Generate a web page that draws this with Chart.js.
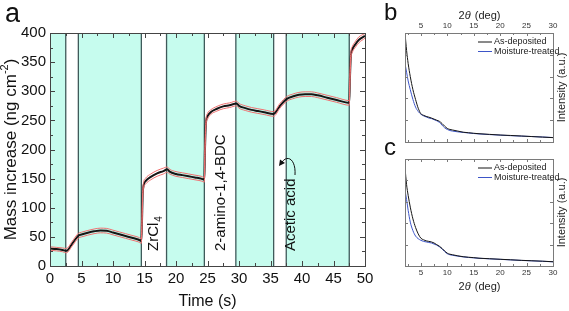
<!DOCTYPE html>
<html>
<head>
<meta charset="utf-8">
<script src="https://cdn.jsdelivr.net/npm/chart.js@4.4.0/dist/chart.umd.min.js"></script>
<style>
  body { margin: 0; background: #fff; }
  #wrap { position: relative; width: 569px; height: 311px; }
  canvas { position: absolute; left: 0; top: 0; }
</style>
</head>
<body>
<div id="wrap">
  <canvas id="chartA" width="569" height="311"></canvas>
  <canvas id="chartB" width="569" height="311"></canvas>
  <canvas id="chartC" width="569" height="311"></canvas>
</div>
<script>
// panel a: mass increase vs time
const timeS = [0, 1, 2, 2.6, 3.5, 4.5, 5, 6, 7, 8, 9, 10, 11, 12, 13, 14, 14.5, 14.6, 14.7, 14.85, 15.2, 16, 17, 18, 18.6,
  19, 20, 21, 22, 23, 24, 24.5, 24.6, 24.75, 25, 25.5, 26.5, 27.5, 28.5, 29.6, 30, 31, 32, 33, 34, 35.5, 36.5, 37.6,
  38.5, 39.5, 40.5, 41.5, 42.5, 44, 45.5, 47.5, 47.6, 47.75, 48, 48.5, 49, 50];
const massMean = [30, 29, 27.5, 26, 38, 52, 54, 57, 59.5, 61, 60.5, 57.5, 54.5, 51.5, 48.5, 45.5, 43, 75, 120, 138, 146, 153, 159, 163, 166,
  162, 158, 156, 154, 152, 150, 148, 200, 245, 257, 264, 270, 274, 276, 279, 275, 271, 268, 266, 264, 261, 275, 287,
  291, 294, 295, 295, 293, 289, 285, 280, 320, 360, 372, 381, 388, 395];
const massUpper = [33, 32, 31, 30, 42, 56, 58, 61, 63.5, 65, 64.5, 61.5, 58.5, 55.5, 52.5, 49.5, 47, 80, 126, 143, 151, 158, 164, 168, 170,
  166, 162, 160, 158, 156, 154, 152, 206, 250, 262, 268, 274, 278, 280, 283, 279, 275, 272, 270, 268, 265, 279, 291,
  295, 298, 299, 299, 297, 293, 289, 284, 326, 366, 377, 386, 393, 399];
const massLower = [27, 26, 24.5, 22.5, 34, 48, 50, 53, 55.5, 57, 56.5, 53.5, 50.5, 47.5, 44.5, 41.5, 39, 70, 114, 133, 141, 148, 154, 158, 161,
  158, 154, 152, 150, 148, 146, 144, 194, 240, 252, 260, 266, 270, 272, 275, 271, 267, 264, 262, 260, 257, 271, 283,
  287, 290, 291, 291, 289, 285, 281, 276, 314, 354, 367, 376, 383, 391];
const shadeStart = [0, 4.5, 18.5, 29.5, 37.5];
const shadeEnd = [2.5, 14.5, 24.5, 35.5, 47.5];
const timeTicks = [0, 5, 10, 15, 20, 25, 30, 35, 40, 45, 50];
const massTicks = [0, 50, 100, 150, 200, 250, 300, 350, 400];
const precursorLabels = [
  { text: 'ZrCl', sub: '4', t: 16.5 },
  { text: '2-amino-1,4-BDC', sub: '', t: 27.1 },
  { text: 'Acetic acid', sub: '', t: 38.2 }
];

// panels b and c: XRD
const twoTheta = [2, 2.3, 2.6, 3, 3.5, 4, 4.5, 5, 5.5, 6, 6.5, 7, 7.5, 8, 8.5, 9, 9.5, 10, 10.5, 11, 12, 13, 14, 15,
  16, 18, 20, 22, 24, 26, 28, 30];
const bDeposited = [100, 84, 72, 60, 48, 39, 31, 26, 24.5, 23.5, 22.8, 22, 21, 20, 19, 17, 14.5, 12.5, 11.5, 11, 10, 9,
  8.5, 8, 7.6, 7, 6.4, 6, 5.5, 5, 4.5, 4];
const bMoisture = [72, 64, 56, 48, 39, 32, 28, 25.5, 24, 23, 22, 21.5, 20.5, 19.5, 18, 15.5, 13, 11.5, 10.5, 10, 9.3,
  8.8, 8.3, 7.8, 7.4, 6.8, 6.3, 5.8, 5.4, 5, 4.6, 4.1];
const cDeposited = [92, 76, 66, 55, 44, 36, 30, 26, 24.5, 23.5, 23, 22.5, 21.5, 20, 18.5, 16.5, 14, 12, 11, 10.5, 9.5,
  8.7, 8.2, 7.8, 7.3, 6.8, 6.3, 5.8, 5.3, 4.9, 4.5, 4];
const cMoisture = [71, 62, 52, 41, 33, 28, 25.5, 24, 23, 22.5, 22, 21.5, 20.5, 19.5, 18, 16, 13.5, 11.5, 10.5, 10, 9.2,
  8.5, 8, 7.6, 7.2, 6.7, 6.2, 5.7, 5.2, 4.8, 4.4, 3.9];
const thetaTicks = [5, 10, 15, 20, 25, 30];
const thetaMinor = [2.5, 7.5, 12.5, 17.5, 22.5, 27.5];
const intensityTicks = [0, 20, 40, 60, 80, 100];
const legendNames = ['As-deposited', 'Moisture-treated'];

const FONT = "'Liberation Sans', Arial, sans-serif";
const BLACK = '#151515';
const BLUE = '#3d55c8';

const toPoints = (xs, ys) => xs.map((x, i) => ({ x: x, y: ys[i] }));

function setTicks(values) {
  return scale => { scale.ticks = values.map(v => ({ value: v })); };
}

function tickMarks(ctx, area, xs, ys, xMajor, xMinor, yMajor, yMinor, lenMajor, lenMinor) {
  ctx.beginPath();
  const addX = (vals, len) => vals.forEach(v => {
    const px = Math.round(xs.getPixelForValue(v)) + 0.5;
    ctx.moveTo(px, area.bottom); ctx.lineTo(px, area.bottom - len);
    ctx.moveTo(px, area.top); ctx.lineTo(px, area.top + len);
  });
  const addY = (vals, len) => vals.forEach(v => {
    const py = Math.round(ys.getPixelForValue(v)) + 0.5;
    ctx.moveTo(area.left, py); ctx.lineTo(area.left + len, py);
    ctx.moveTo(area.right, py); ctx.lineTo(area.right - len, py);
  });
  addX(xMajor, lenMajor); addX(xMinor, lenMinor);
  addY(yMajor, lenMajor); addY(yMinor, lenMinor);
  ctx.stroke();
}

// ---------- panel a ----------
const panelA = {
  id: 'panelA',
  beforeDatasetsDraw(chart) {
    const { ctx, chartArea: a, scales: { x } } = chart;
    ctx.save();
    ctx.fillStyle = '#c6fcee';
    shadeStart.forEach((s, i) => {
      const x0 = x.getPixelForValue(s), x1 = x.getPixelForValue(shadeEnd[i]);
      ctx.fillRect(x0, a.top, x1 - x0, a.bottom - a.top);
    });
    ctx.strokeStyle = '#3f5a5a';
    ctx.lineWidth = 1.3;
    ctx.beginPath();
    shadeStart.concat(shadeEnd).forEach(v => {
      if (v <= 0 || v >= 50) return;
      const px = x.getPixelForValue(v);
      ctx.moveTo(px, a.top); ctx.lineTo(px, a.bottom);
    });
    ctx.stroke();
    ctx.restore();
  },
  afterDatasetsDraw(chart) {
    const { ctx, chartArea: a, scales: { x, y } } = chart;
    ctx.save();
    ctx.strokeStyle = '#444';
    ctx.lineWidth = 1;
    ctx.strokeRect(Math.round(a.left) + 0.5, Math.round(a.top) + 0.5, Math.round(a.right - a.left), Math.round(a.bottom - a.top));
    const xMinor = timeTicks.slice(0, -1).map(v => v + 2.5);
    const yMinor = massTicks.slice(0, -1).map(v => v + 25);
    tickMarks(ctx, a, x, y, timeTicks, xMinor, massTicks, yMinor, 5, 3);

    // precursor labels, vertical
    ctx.fillStyle = '#111';
    ctx.textBaseline = 'middle';
    precursorLabels.forEach(l => {
      ctx.save();
      ctx.translate(x.getPixelForValue(l.t), 251);
      ctx.rotate(-Math.PI / 2);
      ctx.font = '15px ' + FONT;
      ctx.textAlign = 'left';
      ctx.fillText(l.text, 0, 0);
      if (l.sub) {
        const w = ctx.measureText(l.text).width;
        ctx.font = '10px ' + FONT;
        ctx.fillText(l.sub, w + 1, 5);
      }
      ctx.restore();
    });

    // curved arrow toward the acetic acid pulse
    ctx.strokeStyle = '#111';
    ctx.lineWidth = 1;
    ctx.beginPath();
    ctx.moveTo(295, 175);
    ctx.bezierCurveTo(296, 160, 288, 154, 282, 162);
    ctx.stroke();
    ctx.fillStyle = '#111';
    ctx.beginPath();
    ctx.moveTo(279, 166);
    ctx.lineTo(280, 159.5);
    ctx.lineTo(285, 163);
    ctx.closePath();
    ctx.fill();

    // axis titles
    ctx.fillStyle = '#111';
    ctx.textAlign = 'center';
    ctx.textBaseline = 'middle';
    ctx.font = '16px ' + FONT;
    ctx.fillText('Time (s)', (a.left + a.right) / 2, 302);

    ctx.save();
    ctx.translate(11, (a.top + a.bottom) / 2);
    ctx.rotate(-Math.PI / 2);
    const main = 'Mass increase (ng cm';
    ctx.font = '17px ' + FONT;
    const w1 = ctx.measureText(main).width;
    ctx.font = '11px ' + FONT;
    const w2 = ctx.measureText('-2').width;
    ctx.font = '17px ' + FONT;
    const w3 = ctx.measureText(')').width;
    let sx = -(w1 + w2 + w3) / 2;
    ctx.textAlign = 'left';
    ctx.fillText(main, sx, 0);
    ctx.font = '11px ' + FONT;
    ctx.fillText('-2', sx + w1, -6);
    ctx.font = '17px ' + FONT;
    ctx.fillText(')', sx + w1 + w2, 0);
    ctx.restore();

    ctx.font = '27px ' + FONT;
    ctx.textAlign = 'left';
    ctx.textBaseline = 'alphabetic';
    ctx.fillText('a', 5, 22);
    ctx.restore();
  }
};

new Chart(document.getElementById('chartA'), {
  type: 'line',
  data: {
    datasets: [
      { data: toPoints(timeS, massUpper), borderColor: '#f07070', borderWidth: 1 },
      { data: toPoints(timeS, massLower), borderColor: '#f07070', borderWidth: 1 },
      { data: toPoints(timeS, massMean), borderColor: BLACK, borderWidth: 2 }
    ]
  },
  options: {
    responsive: false,
    animation: false,
    events: [],
    elements: { point: { radius: 0 }, line: { cubicInterpolationMode: 'monotone', fill: false } },
    layout: { padding: { left: 0, right: 204, top: 33, bottom: 0 } },
    plugins: { legend: { display: false }, tooltip: { enabled: false } },
    scales: {
      x: {
        type: 'linear', min: 0, max: 50,
        afterBuildTicks: setTicks(timeTicks),
        afterFit: s => { s.height = 45; },
        grid: { display: false, drawTicks: false },
        border: { display: false },
        ticks: { font: { family: FONT, size: 15 }, color: '#111', padding: 4, maxRotation: 0, autoSkip: false }
      },
      y: {
        type: 'linear', min: 0, max: 400,
        afterBuildTicks: setTicks(massTicks),
        afterFit: s => { s.width = 50; },
        grid: { display: false, drawTicks: false },
        border: { display: false },
        ticks: { font: { family: FONT, size: 15 }, color: '#111', padding: 4, autoSkip: false }
      }
    }
  },
  plugins: [panelA]
});

// ---------- panels b and c ----------
function xrdPanel(canvasId, letter, deposited, moisture, axisTop, padTop, padBottom, letterY) {
  const decor = {
    id: 'xrd' + letter,
    afterDatasetsDraw(chart) {
      const { ctx, chartArea: a, scales: { x, y } } = chart;
      ctx.save();
      ctx.strokeStyle = '#7a7a7a';
      ctx.lineWidth = 1;
      ctx.strokeRect(Math.round(a.left) + 0.5, Math.round(a.top) + 0.5, Math.round(a.right - a.left), Math.round(a.bottom - a.top));
      tickMarks(ctx, a, x, y, thetaTicks, thetaMinor, intensityTicks, [], 3, 2);

      // legend
      ctx.font = '9px ' + FONT;
      ctx.textAlign = 'left';
      ctx.textBaseline = 'middle';
      [BLACK, BLUE].forEach((c, i) => {
        const ly = a.top + 9 + i * 9.5;
        ctx.strokeStyle = c;
        ctx.beginPath();
        ctx.moveTo(a.left + 73, ly); ctx.lineTo(a.left + 87, ly);
        ctx.stroke();
        ctx.fillStyle = '#222';
        ctx.fillText(legendNames[i], a.left + 89, ly);
      });

      // 2θ title
      ctx.fillStyle = '#222';
      ctx.font = '11px ' + FONT;
      const ty = axisTop ? 16 : 287;
      const p1 = '2', p2 = 'θ', p3 = ' (deg)';
      const w1 = ctx.measureText(p1).width;
      ctx.font = 'italic 11px ' + FONT;
      const w2 = ctx.measureText(p2).width;
      ctx.font = '11px ' + FONT;
      const w3 = ctx.measureText(p3).width;
      let sx = (a.left + a.right) / 2 - (w1 + w2 + w3) / 2;
      ctx.fillText(p1, sx, ty);
      ctx.font = 'italic 11px ' + FONT;
      ctx.fillText(p2, sx + w1, ty);
      ctx.font = '11px ' + FONT;
      ctx.fillText(p3, sx + w1 + w2 + 1, ty);

      // intensity title
      ctx.save();
      ctx.translate(562, (a.top + a.bottom) / 2);
      ctx.rotate(-Math.PI / 2);
      ctx.textAlign = 'center';
      ctx.fillText('Intensity (a.u.)', 0, 0);
      ctx.restore();

      ctx.fillStyle = '#111';
      ctx.font = '24px ' + FONT;
      ctx.textAlign = 'left';
      ctx.textBaseline = 'alphabetic';
      ctx.fillText(letter, 384, letterY);
      ctx.restore();
    }
  };

  new Chart(document.getElementById(canvasId), {
    type: 'line',
    data: {
      datasets: [
        { data: toPoints(twoTheta, deposited), borderColor: BLACK, borderWidth: 1 },
        { data: toPoints(twoTheta, moisture), borderColor: BLUE, borderWidth: 1 }
      ]
    },
    options: {
      responsive: false,
      animation: false,
      events: [],
      elements: { point: { radius: 0 }, line: { cubicInterpolationMode: 'monotone', fill: false } },
      layout: { padding: { left: 405, right: 16, top: padTop, bottom: padBottom } },
      plugins: { legend: { display: false }, tooltip: { enabled: false } },
      scales: {
        x: {
          type: 'linear', min: 2, max: 30,
          position: axisTop ? 'top' : 'bottom',
          afterBuildTicks: setTicks(thetaTicks),
          afterFit: s => { s.height = axisTop ? 10 : 14; },
          grid: { display: false, drawTicks: false },
          border: { display: false },
          ticks: { font: { family: FONT, size: 8 }, color: '#333', padding: 2, maxRotation: 0, autoSkip: false }
        },
        y: { type: 'linear', min: 0, max: 100, display: false }
      }
    },
    plugins: [decor]
  });
}

xrdPanel('chartB', 'b', bDeposited, bMoisture, true, 23, 169, 20);
xrdPanel('chartC', 'c', cDeposited, cMoisture, false, 159, 31, 155);
</script>
</body>
</html>
